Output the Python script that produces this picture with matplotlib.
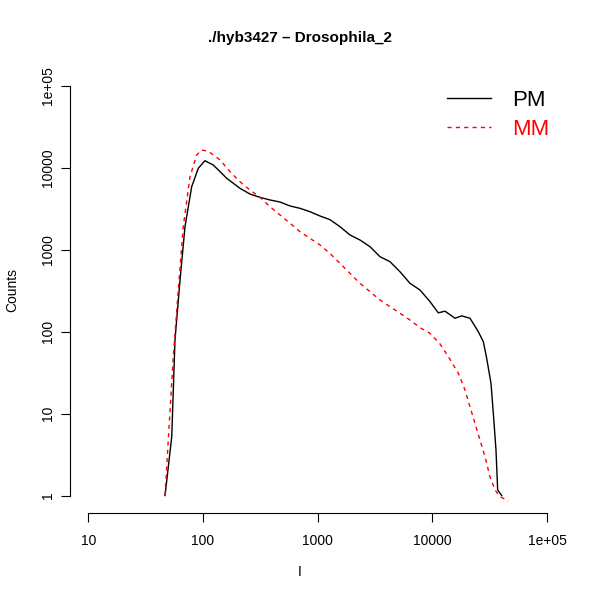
import numpy as np
import matplotlib
matplotlib.use("Agg")
import matplotlib.pyplot as plt

plt.rcParams['font.family'] = ['Liberation Sans', 'DejaVu Sans']

# PM curve (black)
pm_x = [46.7, 53.4, 57, 63.1, 69.7, 79.7, 91, 104, 123, 141, 161, 184, 210, 257, 314,
        384, 470, 574, 702, 857, 1049, 1282, 1567, 1914, 2339, 2861, 3497, 4274, 5224,
        6383, 7801, 9548, 11270, 12900, 15780, 18030, 21310, 25180, 27850, 29800, 32500,
        34040, 35920, 37150, 40270]
pm_y = [1, 5.2, 79, 428, 1915, 5890, 9880, 12240, 10840, 8990, 7470, 6490, 5640, 4800, 4370,
        4060, 3830, 3430, 3210, 2920, 2587, 2330, 1915, 1517, 1318, 1092, 824, 716, 540,
        390, 323, 233, 170, 178, 146, 156, 146, 100, 75.5, 47.3, 23.4, 10.1, 3.6,
        1.17, 1.0]

# MM curve (red, dashed)
mm_x = [46.7, 49.8, 55.1, 60.9, 67.3, 77.1, 88.1, 97.4, 111, 141, 172, 210, 257, 314, 384,
        470, 574, 702, 857, 1049, 1282, 1567, 1914, 2339, 2861, 3497, 4274, 5224, 6383,
        7801, 9548, 11660, 14000, 16870, 19290, 21310, 23570, 26060, 28790, 31820, 35200,
        38900, 46000]
mm_y = [1.0, 4.76, 49.5, 323, 1915, 7810, 14360, 16540, 16000, 12500, 8990, 6780, 5370, 4380,
        3360, 2660, 2110, 1664, 1381, 1145, 900, 684, 516, 390, 308, 244, 202, 168, 139,
        112, 95.5, 71, 48, 31, 19.4, 12.1, 7.6, 4.76, 2.98, 1.70, 1.17, 0.97, 0.86]

xticks = [10, 100, 1000, 10000, 100000]
xtick_labels = ['10', '100', '1000', '10000', '1e+05']
yticks = [1, 10, 100, 1000, 10000, 100000]
ytick_labels = ['1', '10', '100', '1000', '10000', '1e+05']

fig = plt.figure(figsize=(6, 6), dpi=100)

# plot region in pixels (600x600 canvas)
left_px, right_px, top_px, bottom_px = 70, 570, 59, 512.5
ax = fig.add_axes([left_px / 600, 1 - bottom_px / 600,
                   (right_px - left_px) / 600, (bottom_px - top_px) / 600])

# pixel positions of decades
x_per_dec, x10_px = 114.67, 88.3
y_per_dec, y1_px = 81.9, 495.5
ax.set_xscale('log')
ax.set_yscale('log')
ax.set_xlim(10 ** (1 + (left_px - x10_px) / x_per_dec), 10 ** (1 + (right_px - x10_px) / x_per_dec))
ax.set_ylim(10 ** ((y1_px - bottom_px) / y_per_dec), 10 ** ((y1_px - top_px) / y_per_dec))

ax.plot(pm_x, pm_y, color='black', lw=1.0, label='PM')
ax.plot(mm_x, mm_y, color='red', lw=1.0, ls=(0, (3, 3)), label='MM')

for s in ['top', 'right']:
    ax.spines[s].set_visible(False)
ax.spines['left'].set_bounds(1, 100000)
ax.spines['bottom'].set_bounds(10, 100000)
ax.spines['left'].set_linewidth(0.8)
ax.spines['bottom'].set_linewidth(0.8)

ax.set_xticks(xticks)
ax.set_xticklabels(xtick_labels)
ax.set_yticks(yticks)
ax.set_yticklabels(ytick_labels, rotation=90, va='center')
ax.minorticks_off()
ax.tick_params(axis='both', direction='out', length=6.5, width=0.8, labelsize=10)
ax.tick_params(axis='x', pad=9)
ax.tick_params(axis='y', pad=4)

fig.text(0.5, 1 - 38 / 600, './hyb3427 \u2013 Drosophila_2', ha='center', va='center',
         fontsize=11, fontweight='bold')
fig.text(0.5, 1 - 572 / 600, 'I', ha='center', va='center', fontsize=10)
fig.text(12 / 600, 1 - 290 / 600, 'Counts', ha='center', va='center', rotation=90, fontsize=10)

leg = ax.legend(loc='upper left', bbox_to_anchor=(447 / 600, 1 - 90 / 600),
                bbox_transform=fig.transFigure, frameon=False, fontsize=16,
                borderpad=0, borderaxespad=0,
                handlelength=2.0, handletextpad=0.95, labelspacing=0.35)
for txt, c in zip(leg.get_texts(), ['black', 'red']):
    txt.set_color(c)

fig.savefig('out.png', dpi=100)
